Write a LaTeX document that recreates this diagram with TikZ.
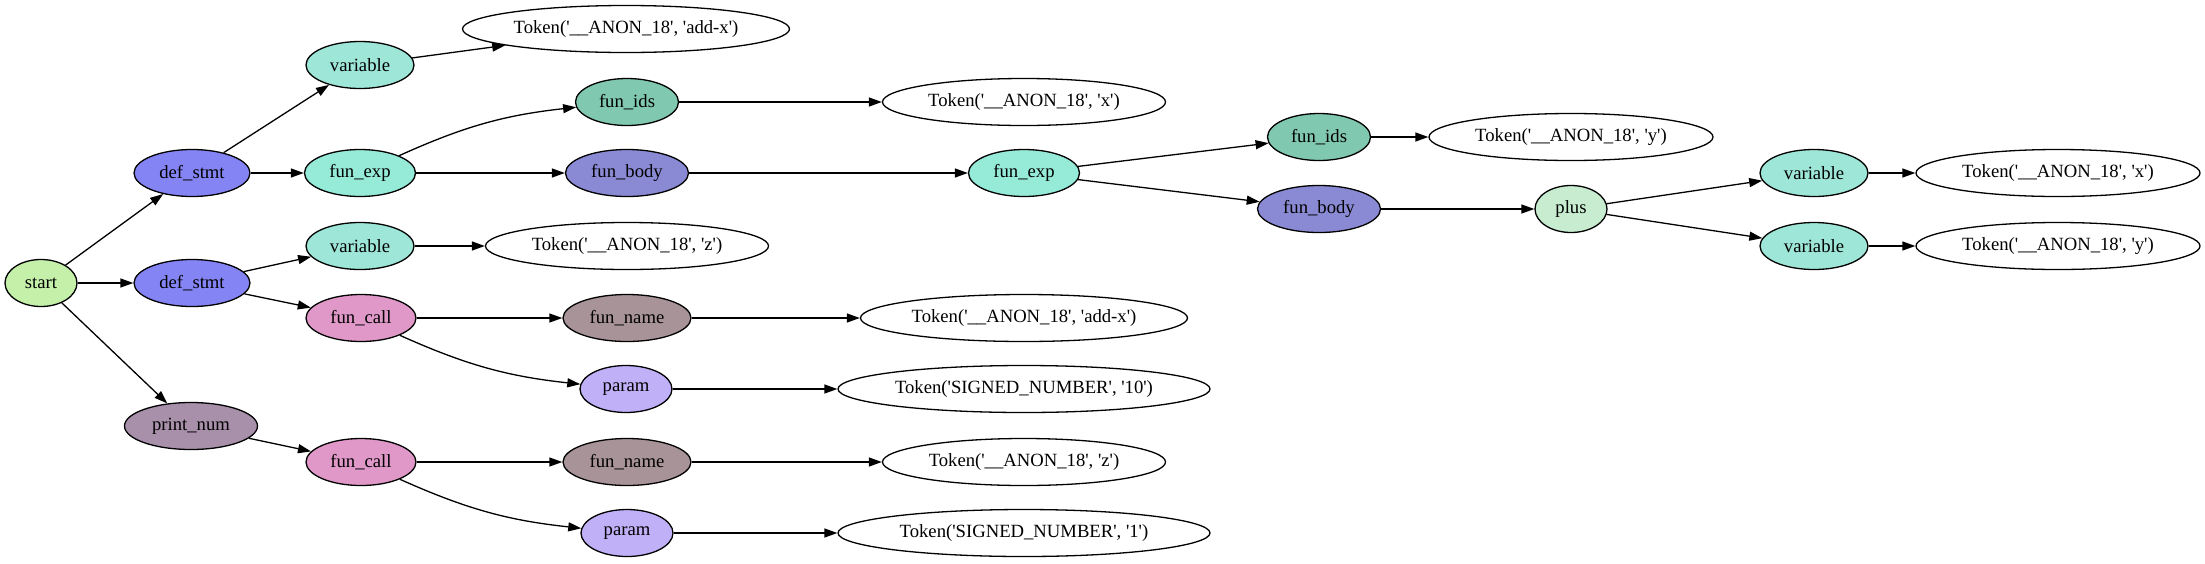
\documentclass[tikz,border=0pt]{standalone}
\usepackage{fontspec}
\newfontfamily\gvfont{Liberation Serif}
\usetikzlibrary{shapes.geometric,arrows.meta}
\definecolor{cstart}{RGB}{196,240,170}
\definecolor{cdef}{RGB}{132,132,245}
\definecolor{cvar}{RGB}{158,230,216}
\definecolor{cfexp}{RGB}{150,234,216}
\definecolor{cfids}{RGB}{128,200,176}
\definecolor{cfbody}{RGB}{138,138,212}
\definecolor{cfcall}{RGB}{224,152,200}
\definecolor{cfname}{RGB}{168,148,152}
\definecolor{cparam}{RGB}{192,176,248}
\definecolor{cprint}{RGB}{168,144,170}
\definecolor{cplus}{RGB}{200,236,208}
\tikzset{
  gv/.style={ellipse, draw, line width=1.3pt, inner sep=0pt, minimum height=47pt,
    font=\gvfont\fontsize{18.67}{22}\selectfont},
  tok/.style={gv, fill=white},
  edge/.style={line width=1.3pt, -{Triangle[length=13pt,width=9pt]}},
}
\begin{document}
\begin{tikzpicture}[x=1pt,y=-1pt]
\useasboundingbox (0,0) rectangle (2205,563);
% rank 0
\node[gv, fill=cstart, minimum width=72pt] (start) at (41,283) {start};
% rank 1
\node[gv, fill=cdef, minimum width=116pt] (ds1) at (192,173) {def\_stmt};
\node[gv, fill=cdef, minimum width=116pt] (ds2) at (192,283) {def\_stmt};
\node[gv, fill=cprint, minimum width=133pt] (pn) at (191,426) {print\_num};
% rank 2
\node[gv, fill=cvar, minimum width=108pt] (var1) at (360,65) {variable};
\node[gv, fill=cfexp, minimum width=111pt] (fe1) at (360,173) {fun\_exp};
\node[gv, fill=cvar, minimum width=108pt] (var2) at (360,246) {variable};
\node[gv, fill=cfcall, minimum width=110pt] (fc1) at (361,318) {fun\_call};
\node[gv, fill=cfcall, minimum width=110pt] (fc2) at (361,462) {fun\_call};
% rank 3
\node[tok, minimum width=327pt] (tadd1) at (626,29) {Token('\_\_ANON\_18', 'add-x')};
\node[gv, fill=cfids, minimum width=103pt] (fi1) at (627,102) {fun\_ids};
\node[gv, fill=cfbody, minimum width=123pt] (fb1) at (627,173) {fun\_body};
\node[tok, minimum width=283pt] (tz1) at (627,246) {Token('\_\_ANON\_18', 'z')};
\node[gv, fill=cfname, minimum width=128pt] (fn1) at (627,318) {fun\_name};
\node[gv, fill=cparam, minimum width=92pt] (pa1) at (626,389) {param};
\node[gv, fill=cfname, minimum width=128pt] (fn2) at (627,462) {fun\_name};
\node[gv, fill=cparam, minimum width=92pt] (pa2) at (627,533) {param};
% rank 4
\node[tok, minimum width=283pt] (tx1) at (1024,102) {Token('\_\_ANON\_18', 'x')};
\node[gv, fill=cfexp, minimum width=111pt] (fe2) at (1024,173) {fun\_exp};
\node[tok, minimum width=327pt] (tadd2) at (1024,318) {Token('\_\_ANON\_18', 'add-x')};
\node[tok, minimum width=372pt] (t10) at (1024,389) {Token('SIGNED\_NUMBER', '10')};
\node[tok, minimum width=283pt] (tz2) at (1024,462) {Token('\_\_ANON\_18', 'z')};
\node[tok, minimum width=372pt] (t1) at (1024,533) {Token('SIGNED\_NUMBER', '1')};
% rank 5
\node[gv, fill=cfids, minimum width=103pt] (fi2) at (1319,137) {fun\_ids};
\node[gv, fill=cfbody, minimum width=123pt] (fb2) at (1319,209) {fun\_body};
% rank 6
\node[tok, minimum width=284pt] (ty1) at (1571,137) {Token('\_\_ANON\_18', 'y')};
\node[gv, fill=cplus, minimum width=72pt] (plus) at (1571,209) {plus};
% rank 7
\node[gv, fill=cvar, minimum width=108pt] (var3) at (1814,173) {variable};
\node[gv, fill=cvar, minimum width=108pt] (var4) at (1814,246) {variable};
% rank 8
\node[tok, minimum width=284pt] (tx2) at (2058,173) {Token('\_\_ANON\_18', 'x')};
\node[tok, minimum width=284pt] (ty2) at (2058,246) {Token('\_\_ANON\_18', 'y')};
% edges
\draw[edge] (start) -- (ds1);
\draw[edge] (start) -- (ds2);
\draw[edge] (start) -- (pn);
\draw[edge] (ds1) -- (var1);
\draw[edge] (ds1) -- (fe1);
\draw[edge] (var1) -- (tadd1);
\draw[edge] (fe1) to[bend left=9] (fi1);
\draw[edge] (fe1) -- (fb1);
\draw[edge] (fi1) -- (tx1);
\draw[edge] (fb1) -- (fe2);
\draw[edge] (fe2) -- (fi2);
\draw[edge] (fe2) -- (fb2);
\draw[edge] (fi2) -- (ty1);
\draw[edge] (fb2) -- (plus);
\draw[edge] (plus) -- (var3);
\draw[edge] (plus) -- (var4);
\draw[edge] (var3) -- (tx2);
\draw[edge] (var4) -- (ty2);
\draw[edge] (ds2) -- (var2);
\draw[edge] (ds2) -- (fc1);
\draw[edge] (var2) -- (tz1);
\draw[edge] (fc1) -- (fn1);
\draw[edge] (fc1) to[bend right=9] (pa1);
\draw[edge] (fn1) -- (tadd2);
\draw[edge] (pa1) -- (t10);
\draw[edge] (pn) -- (fc2);
\draw[edge] (fc2) -- (fn2);
\draw[edge] (fc2) to[bend right=9] (pa2);
\draw[edge] (fn2) -- (tz2);
\draw[edge] (pa2) -- (t1);
\end{tikzpicture}
\end{document}
